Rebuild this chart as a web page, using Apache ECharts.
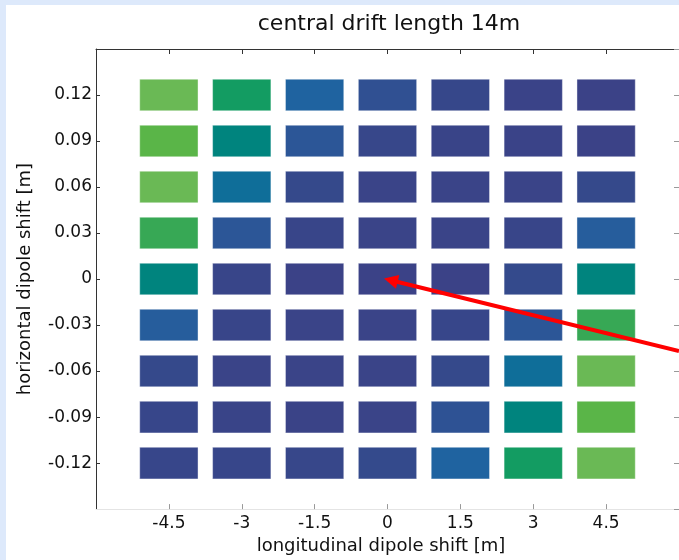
<!DOCTYPE html>
<html>
<head>
<meta charset="utf-8">
<title>central drift length 14m</title>
<script src="https://cdn.jsdelivr.net/npm/echarts@6/dist/echarts.min.js"></script>
<style>
  html, body { margin: 0; padding: 0; width: 679px; height: 560px; overflow: hidden; background: #dde9fb; }
  #chart { position: absolute; left: 6px; top: 5px; width: 673px; height: 555px; background: #ffffff; }
</style>
</head>
<body>
<div id="chart"></div>
<script>
// Longitudinal shift positions (m) and horizontal shift positions (m, top row first)
const longitudinalShift = [-4.5, -3, -1.5, 0, 1.5, 3, 4.5];
const horizontalShift = [0.12, 0.09, 0.06, 0.03, 0, -0.03, -0.06, -0.09, -0.12];

// Colour level of each cell, one row per horizontal shift (top to bottom)
const levelRow012 = [10, 7, 4, 2.5, 1.4, 0.3, 0];
const levelRow009 = [9, 6, 3, 1.3, 0.7, 0.3, 0];
const levelRow006 = [10, 5, 1.8, 0.5, 0.5, 0.5, 1.8];
const levelRow003 = [8, 3, 1, 0.5, 0.5, 1, 3.5];
const levelRow000 = [6, 1, 0, 0, 0, 2, 6];
const levelRowM003 = [3.5, 1, 0.5, 0.5, 1.2, 3, 8];
const levelRowM006 = [1.8, 0.5, 0.5, 0.5, 1.8, 5, 10];
const levelRowM009 = [1.2, 0.7, 0.2, 0.5, 2.7, 6, 9];
const levelRowM012 = [1.2, 1.2, 1.3, 2, 4, 7, 10];
const levels = [levelRow012, levelRow009, levelRow006, levelRow003, levelRow000,
                levelRowM003, levelRowM006, levelRowM009, levelRowM012];

// Colour ramp from low (blue-violet) to high (green)
const levelColors = ['#3b4287', '#384589', '#344a8c', '#2c5697', '#1f63a0', '#0f6e99',
                     '#00847e', '#139c62', '#37a855', '#5ab548', '#6ab955'];

// Annotation arrow: start (right edge) and arrow head centre, in axis units
const arrowFrom = [6.0, -0.0469];
const arrowTo = [0.068, -0.00075];

// Cell size in axis units
const cellWidth = 1.2;
const cellHeight = 0.0206;

const cells = [];
horizontalShift.forEach((y, r) => {
  longitudinalShift.forEach((x, c) => {
    cells.push([x, y, levels[r][c]]);
  });
});

const FONT = 'DejaVu Sans';
const chart = echarts.init(document.getElementById('chart'));
chart.setOption({
  animation: false,
  backgroundColor: '#ffffff',
  title: {
    text: 'central drift length 14m',
    left: 383,
    top: 8,
    padding: 0,
    textAlign: 'center',
    textStyle: { fontFamily: FONT, fontSize: 22, fontWeight: 'normal', color: '#111' }
  },
  grid: { left: 90, top: 44, width: 585, height: 461, containLabel: false },
  xAxis: [
    {
      type: 'value', min: -6, max: 6, interval: 1.5, position: 'bottom',
      name: 'longitudinal dipole shift [m]', nameLocation: 'middle', nameGap: 24,
      nameTextStyle: { fontFamily: FONT, fontSize: 18, color: '#111', padding: [0, 13, 0, 0] },
      axisLine: { show: true, onZero: false, lineStyle: { color: '#e4e4e4', width: 1 } },
      axisTick: { show: true, inside: true, length: 5, lineStyle: { color: '#999' } },
      axisLabel: { fontFamily: FONT, fontSize: 17, color: '#111', margin: 6,
                   showMinLabel: false, showMaxLabel: false },
      splitLine: { show: false }
    },
    {
      type: 'value', min: -6, max: 6, interval: 1.5, position: 'top',
      axisLine: { show: true, onZero: false, lineStyle: { color: '#333', width: 1 } },
      axisTick: { show: true, inside: true, length: 5, lineStyle: { color: '#333' } },
      axisLabel: { show: false },
      splitLine: { show: false }
    }
  ],
  yAxis: [
    {
      type: 'value', min: -0.15, max: 0.15, interval: 0.03, position: 'left',
      name: 'horizontal dipole shift [m]', nameLocation: 'middle', nameGap: 62,
      nameTextStyle: { fontFamily: FONT, fontSize: 18, color: '#111' },
      axisLine: { show: true, onZero: false, lineStyle: { color: '#333', width: 1 } },
      axisTick: { show: true, inside: true, length: 4, lineStyle: { color: '#333' } },
      axisLabel: {
        fontFamily: FONT, fontSize: 17, color: '#111', margin: 4,
        showMinLabel: false, showMaxLabel: false,
        formatter: v => String(Math.round(v * 100) / 100)
      },
      splitLine: { show: false }
    },
    {
      type: 'value', min: -0.15, max: 0.15, interval: 0.03, position: 'right',
      axisLine: { show: true, onZero: false, lineStyle: { color: '#999', width: 1 } },
      axisTick: { show: true, inside: true, length: 5, lineStyle: { color: '#999' } },
      axisLabel: { show: false },
      splitLine: { show: false }
    }
  ],
  visualMap: {
    show: false, type: 'continuous', dimension: 2, seriesIndex: 0,
    min: 0, max: 10, inRange: { color: levelColors }
  },
  series: [
    {
      type: 'custom',
      coordinateSystem: 'cartesian2d',
      xAxisIndex: 0, yAxisIndex: 0,
      data: cells,
      encode: { x: 0, y: 1 },
      renderItem(params, api) {
        const c = api.coord([api.value(0), api.value(1)]);
        const s = api.size([cellWidth, cellHeight]);
        return {
          type: 'rect',
          shape: { x: c[0] - s[0] / 2, y: c[1] - s[1] / 2, width: s[0], height: s[1] },
          style: { fill: api.visual('color'), stroke: 'rgba(255,255,255,0.4)', lineWidth: 1 }
        };
      }
    },
    {
      type: 'lines',
      coordinateSystem: 'cartesian2d',
      xAxisIndex: 0, yAxisIndex: 0,
      clip: false,
      symbol: ['none', 'triangle'],
      symbolSize: [14, 14],
      lineStyle: { color: '#ff0000', width: 4, opacity: 1 },
      itemStyle: { color: '#ff0000' },
      silent: true,
      data: [{ coords: [arrowFrom, arrowTo] }]
    }
  ]
});
</script>
</body>
</html>
